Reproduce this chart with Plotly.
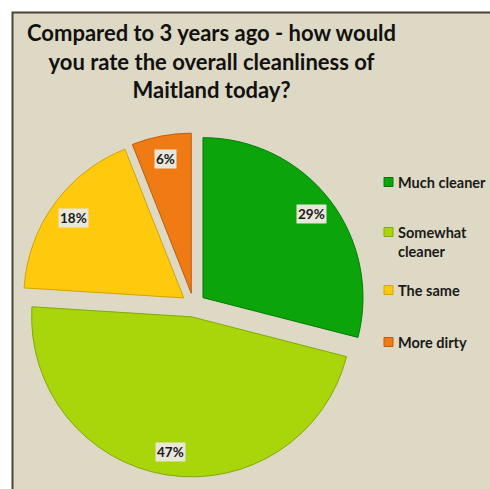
import math
import plotly.graph_objects as go

# Survey answers and their shares (%)
categories = ["Much cleaner", "Somewhat cleaner", "The same", "More dirty"]
legend_labels = ["Much cleaner", "Somewhat<br>cleaner", "The same", "More dirty"]
shares = [29, 47, 18, 6]
colors = ["#0BA50B", "#A8D60A", "#FFC90E", "#F07A14"]
edge_colors = ["#067A06", "#84A806", "#D6A200", "#BF5C0A"]

W, H = 490, 489
BG = "#DDD9C4"
FONT = "Lato"

# pie geometry in pixels
cx, cy = 193.5, 305.0
radius = 160.0
pull = 0.075
half = radius * (1 + pull)

fig = go.Figure()
fig.add_trace(go.Pie(
    labels=categories,
    values=shares,
    sort=False,
    direction="clockwise",
    rotation=0,
    pull=pull,
    marker=dict(colors=colors, line=dict(color=edge_colors, width=1)),
    textinfo="none",
    hoverinfo="label+percent",
    showlegend=False,
    domain=dict(x=[(cx - half) / W, (cx + half) / W],
                y=[1 - (cy + half) / H, 1 - (cy - half) / H]),
))

annotations = []
# percentage labels placed near the outer end of each slice
total = sum(shares)
start = 0.0
for share in shares:
    mid = math.radians((start + share / 2) / total * 360)
    start += share
    dist = radius * (pull + 0.855)
    px = cx + dist * math.sin(mid)
    py = cy - dist * math.cos(mid)
    annotations.append(dict(
        x=px / W, y=1 - py / H, xref="paper", yref="paper",
        xanchor="center", yanchor="middle",
        text=f"<b>{share / total * 100:.0f}%</b>", showarrow=False,
        font=dict(family=FONT, size=13.5, color="#1A1A1A"),
        bgcolor="#E9E6DA", borderpad=1,
    ))

# chart frame
shapes = [dict(
    type="rect", xref="paper", yref="paper", layer="below",
    x0=12.5 / W, x1=1.05, y0=-0.05, y1=1 - 12.5 / H,
    fillcolor=BG, line=dict(color="#4A4536", width=2),
)]

# legend entries
legend_rows = [182, 232, 290, 342]
for label, col, edge, yc in zip(legend_labels, colors, edge_colors, legend_rows):
    shapes.append(dict(
        type="rect", xref="paper", yref="paper",
        x0=384 / W, x1=393 / W, y0=1 - (yc + 4.5) / H, y1=1 - (yc - 4.5) / H,
        fillcolor=col, line=dict(color=edge, width=1),
    ))
    annotations.append(dict(
        x=396 / W, y=1 - (yc - 10.5) / H, xref="paper", yref="paper",
        xanchor="left", yanchor="top", align="left",
        text=f"<b>{label}</b>", showarrow=False,
        font=dict(family=FONT, size=14.5, color="#1A1A1A"),
    ))

# title
annotations.append(dict(
    x=211 / W, y=1 - 17 / H, xref="paper", yref="paper",
    xanchor="center", yanchor="top", align="center", showarrow=False,
    text="<b>Compared to 3 years ago - how would<br>you rate the overall cleanliness of<br>Maitland today?</b>",
    font=dict(family=FONT, size=22, color="#111111"),
))

fig.update_layout(
    width=W, height=H,
    margin=dict(l=0, r=0, t=0, b=0),
    paper_bgcolor="white",
    plot_bgcolor="white",
    shapes=shapes,
    annotations=annotations,
)

fig.write_html("out.html")
